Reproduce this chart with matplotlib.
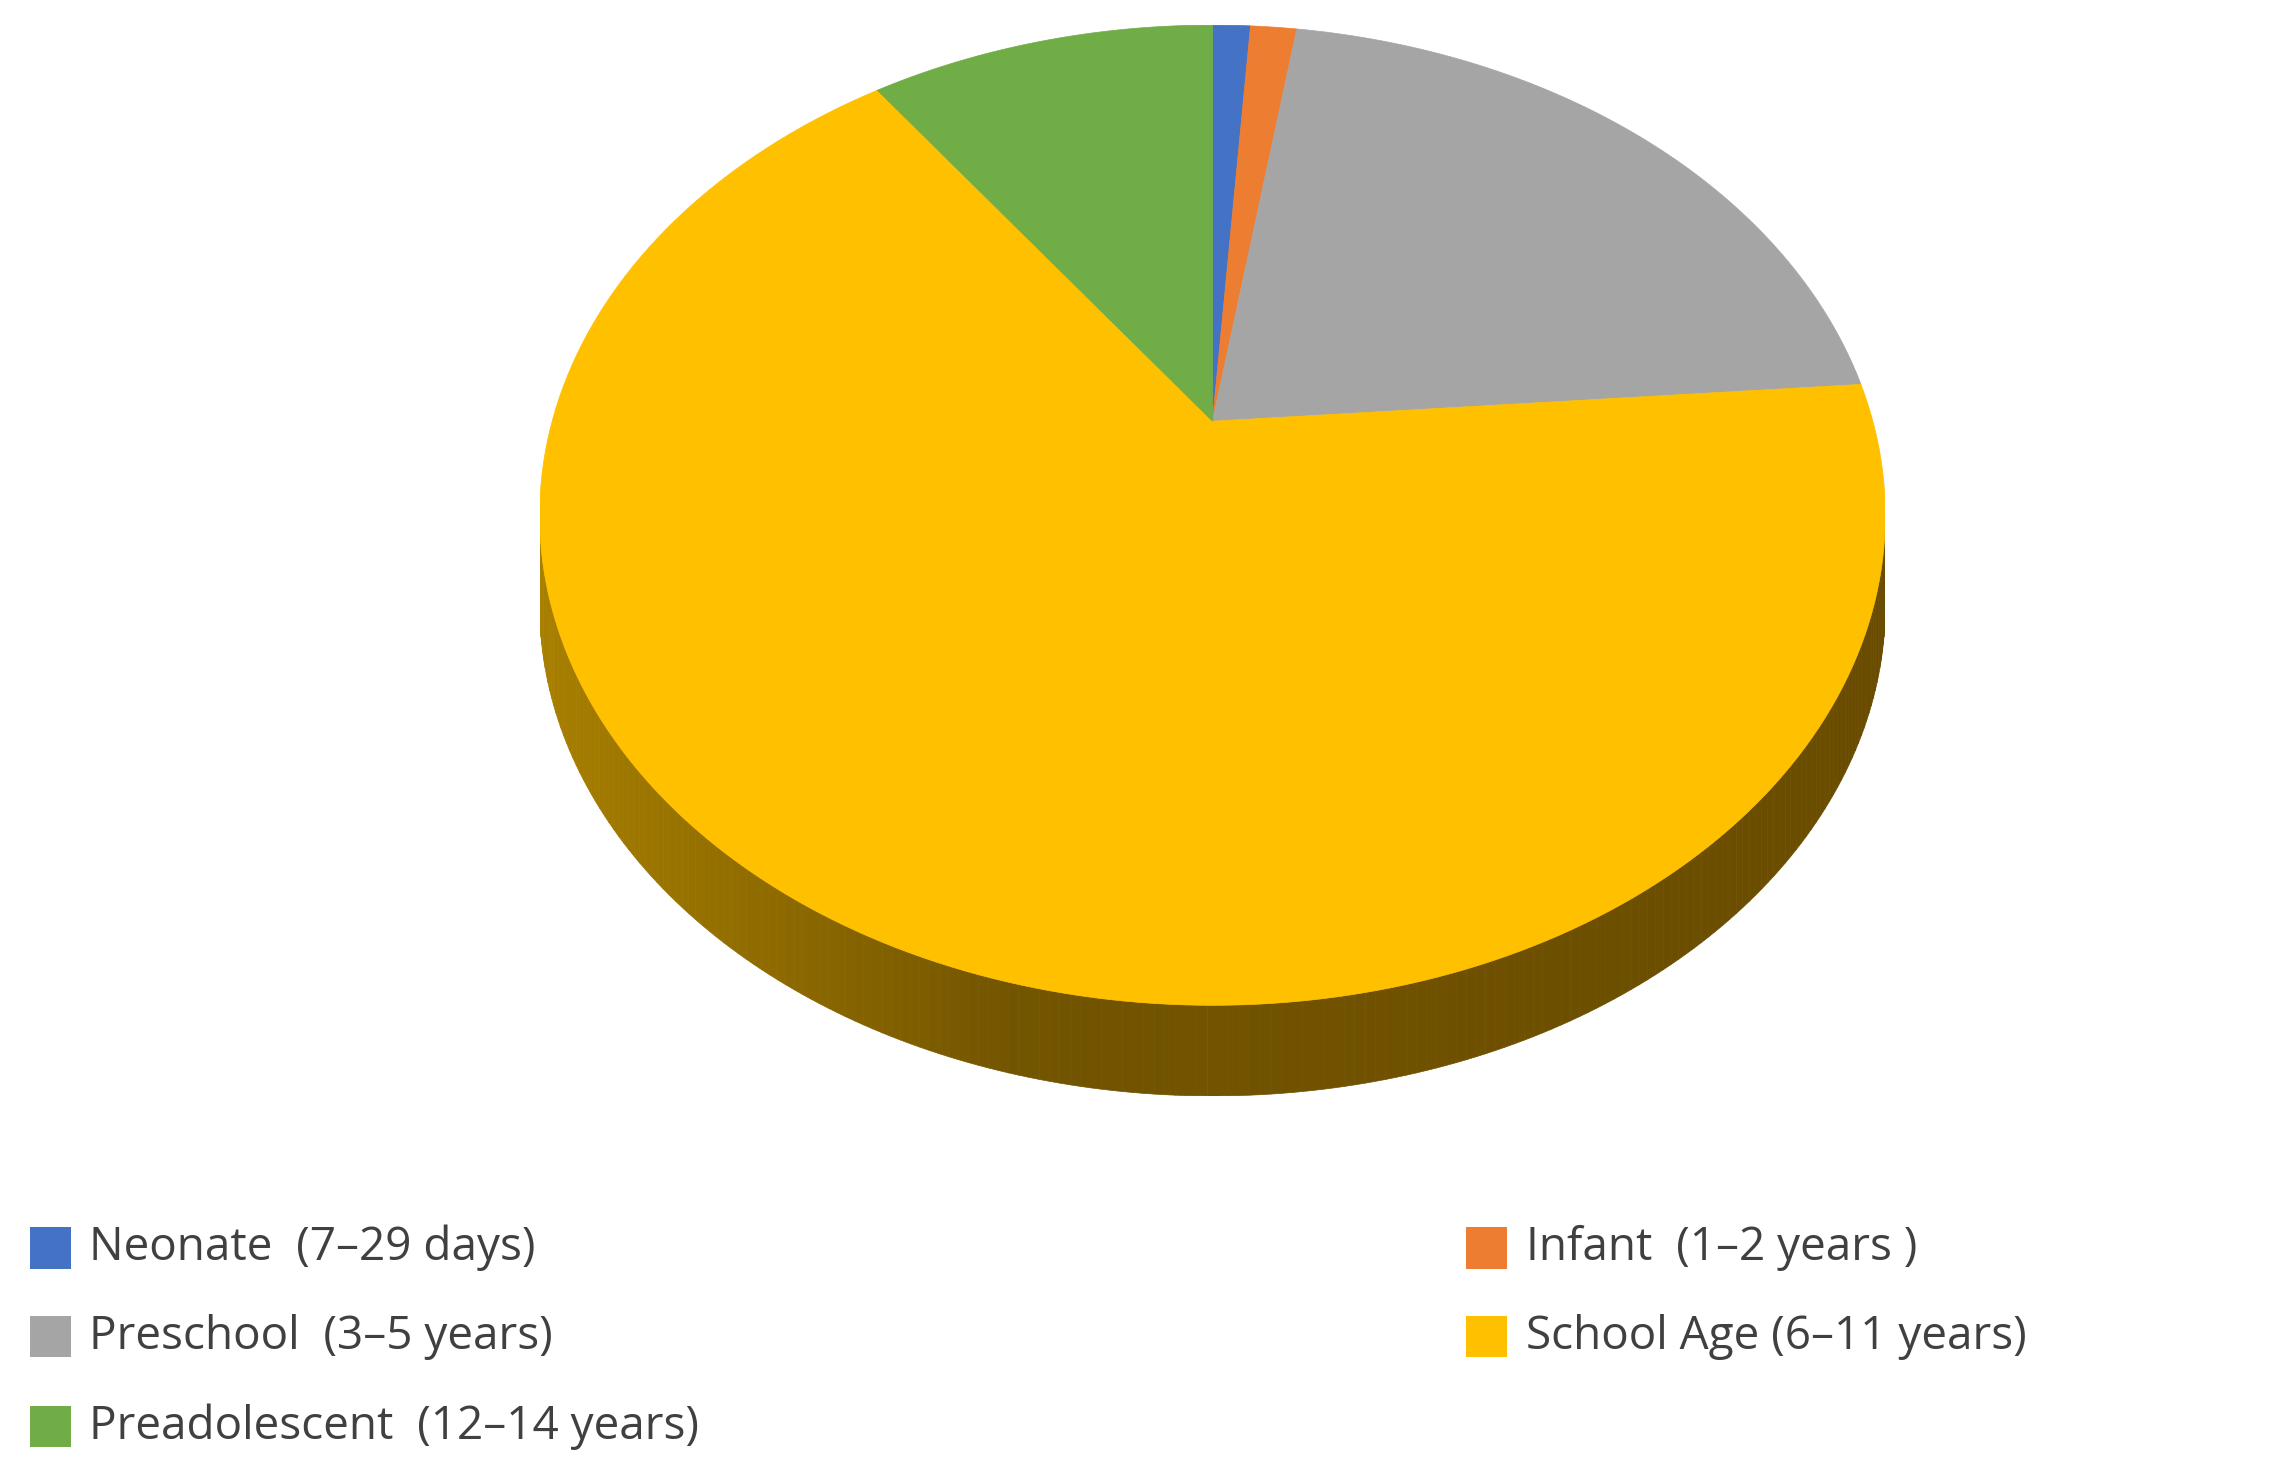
import numpy as np
import matplotlib
matplotlib.use("Agg")
from matplotlib import pyplot as plt
from matplotlib.patches import Polygon, Rectangle
from matplotlib.collections import PolyCollection
from matplotlib.colors import to_rgb

labels = ["Neonate  (7\u201329 days)", "Infant  (1\u20132 years )", "Preschool  (3\u20135 years)",
          "School Age (6\u201311 years)", "Preadolescent  (12\u201314 years)"]
values = [0.9, 1.1, 18.7, 71.0, 8.3]
colors = ["#4472C4", "#ED7D31", "#A5A5A5", "#FFC000", "#70AD47"]

ry = 0.73       # vertical squash of the top face
depth = 0.135   # thickness of the side
apex = (0.0, 0.14)  # perspective apex of the slices

fig = plt.figure(figsize=(22.77, 14.77), dpi=100)
ax = fig.add_axes([0.237, 0.258, 0.591, 0.725])
ax.set_xlim(-1, 1)
ax.set_ylim(-ry - depth, ry)
ax.axis("off")

# side band (front half), coloured with a brown gradient
ts = np.linspace(np.pi, 2 * np.pi, 200)
quads, qcol = [], []
c_left, c_mid, c_right = np.array(to_rgb("#A87F00")), np.array(to_rgb("#735500")), np.array(to_rgb("#6A4C00"))
for a, b in zip(ts[:-1], ts[1:]):
    x0, x1 = np.cos(a), np.cos(b)
    y0, y1 = ry * np.sin(a), ry * np.sin(b)
    quads.append([(x0, y0), (x1, y1), (x1, y1 - depth), (x0, y0 - depth)])
    xm = (x0 + x1) / 2
    if xm < -0.3:
        f = (xm + 1) / 0.7
        qcol.append(c_left * (1 - f) + c_mid * f)
    else:
        f = (xm + 0.3) / 1.3
        qcol.append(c_mid * (1 - f) + c_right * f)
ax.add_collection(PolyCollection(quads, facecolors=qcol, edgecolors=qcol, linewidths=0.5))

# top face wedges, clockwise from 12 o'clock
cum = np.concatenate([[0], np.cumsum(values)]) / sum(values)
for i, col in enumerate(colors):
    t = np.linspace(np.pi / 2 - 2 * np.pi * cum[i], np.pi / 2 - 2 * np.pi * cum[i + 1], 200)
    pts = [apex] + list(zip(np.cos(t), ry * np.sin(t)))
    ax.add_patch(Polygon(pts, closed=True, facecolor=col, edgecolor=col, linewidth=0.5))

# legend laid out in two columns
legend_pos = [(0.013, 0.155), (0.644, 0.155), (0.013, 0.095), (0.644, 0.095), (0.013, 0.034)]
for (x, y), lab, col in zip(legend_pos, labels, colors):
    fig.patches.append(Rectangle((x, y - 0.014), 0.018, 0.028, transform=fig.transFigure,
                                 facecolor=col, edgecolor="none"))
    fig.text(x + 0.026, y, lab, fontsize=33, color="#404040", va="center",
             family="Open Sans")

fig.savefig("out.png", dpi=100, facecolor="white")
